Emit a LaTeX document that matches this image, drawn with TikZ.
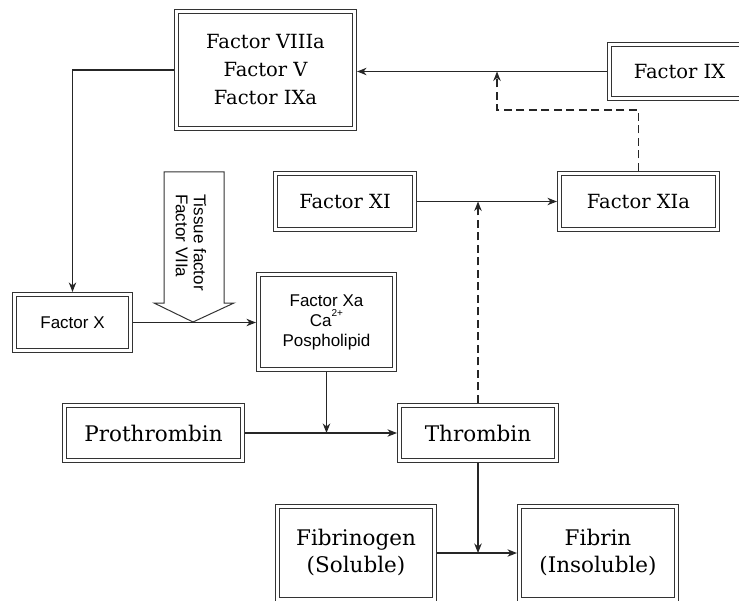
\documentclass[tikz,border=0pt]{standalone}
\usepackage{fontspec}
\setmainfont{DejaVu Serif}
\setsansfont{Liberation Sans}
\usetikzlibrary{arrows.meta}
\begin{document}
\begin{tikzpicture}[x=1bp,y=-1bp,
  box/.style={draw=black!80, double, double distance=3.2bp, line width=1bp,
    inner sep=0pt, outer sep=2.6bp, align=center},
  sbig/.style={font=\fontsize{19.5bp}{28bp}\selectfont},
  sbigger/.style={font=\fontsize{21.5bp}{27bp}\selectfont},
  ssans/.style={font=\sffamily\fontsize{17bp}{20bp}\selectfont},
  conn/.style={draw=black!85, line width=1.1bp},
  arr/.style={conn, -{Stealth[length=9.5bp,width=7.5bp,inset=3bp]}},
  dsh/.style={dash pattern=on 8bp off 4.5bp}]
\useasboundingbox (0,0) rectangle (739,601);
\clip (0,0) rectangle (739,601);

% boxes
\node[box, sbig, minimum width=178bp, minimum height=117bp] (VIIIa) at (265.5,70) {Factor VIIIa\\Factor V\\Factor IXa};
\node[box, sbig, minimum width=140bp, minimum height=54bp] (IX) at (679.5,71.5) {Factor IX};
\node[box, sbig, minimum width=139bp, minimum height=56bp] (XI) at (345,201.5) {Factor XI};
\node[box, sbig, minimum width=158bp, minimum height=56bp] (XIa) at (638.5,201.5) {Factor XIa};
\node[box, ssans, minimum width=116bp, minimum height=56bp] (X) at (72.5,322.5) {Factor X};
\node[box, ssans, minimum width=136bp, minimum height=95bp] (Xa) at (326.5,322) {Factor Xa\\Ca\raisebox{0.55em}{\fontsize{10bp}{10bp}\selectfont 2+}\\Pospholipid};
\node[box, sbigger, minimum width=178bp, minimum height=55bp] (Proth) at (153.5,433) {Prothrombin};
\node[box, sbigger, minimum width=157bp, minimum height=55bp] (Thr) at (478,433) {Thrombin};
\node[box, sbigger, minimum width=157bp, minimum height=93bp] (Fgen) at (356,553) {Fibrinogen\\(Soluble)};
\node[box, sbigger, minimum width=157bp, minimum height=93bp] (Fib) at (598,553) {Fibrin\\(Insoluble)};

% block arrow (tissue factor)
\draw[draw=black!80, line width=1bp, fill=white]
  (164,172) -- (224,172) -- (224,303) -- (234,303) -- (193,322) -- (154,303) -- (164,303) -- cycle;
\node[rotate=-90, align=left, inner sep=0pt, font=\sffamily\fontsize{17bp}{18bp}\selectfont] (tf) at (191,242.5) {Tissue factor\\Factor VIIa};

% connectors
\draw[arr] (IX.west) -- (IX.west -| VIIIa.east);
\draw[arr] (VIIIa.west) -| (X.north);
\draw[arr] (X.east) -- (X.east -| Xa.west);
\draw[arr] (XI.east) -- (XI.east -| XIa.west);
\coordinate (dk) at (497,110);
\draw[arr, dsh] (XIa.north) |- (dk) -- (dk |- IX.west);
\draw[arr] (Xa.south) -- (Xa.south |- Proth.east);
\draw[arr] (Proth.east) -- (Proth.east -| Thr.west);
\draw[arr, dsh] (Thr.north) -- (Thr.north |- XI.east);
\draw[arr] (Thr.south) -- (Thr.south |- Fgen.east);
\draw[arr] (Fgen.east) -- (Fgen.east -| Fib.west);
\end{tikzpicture}
\end{document}
